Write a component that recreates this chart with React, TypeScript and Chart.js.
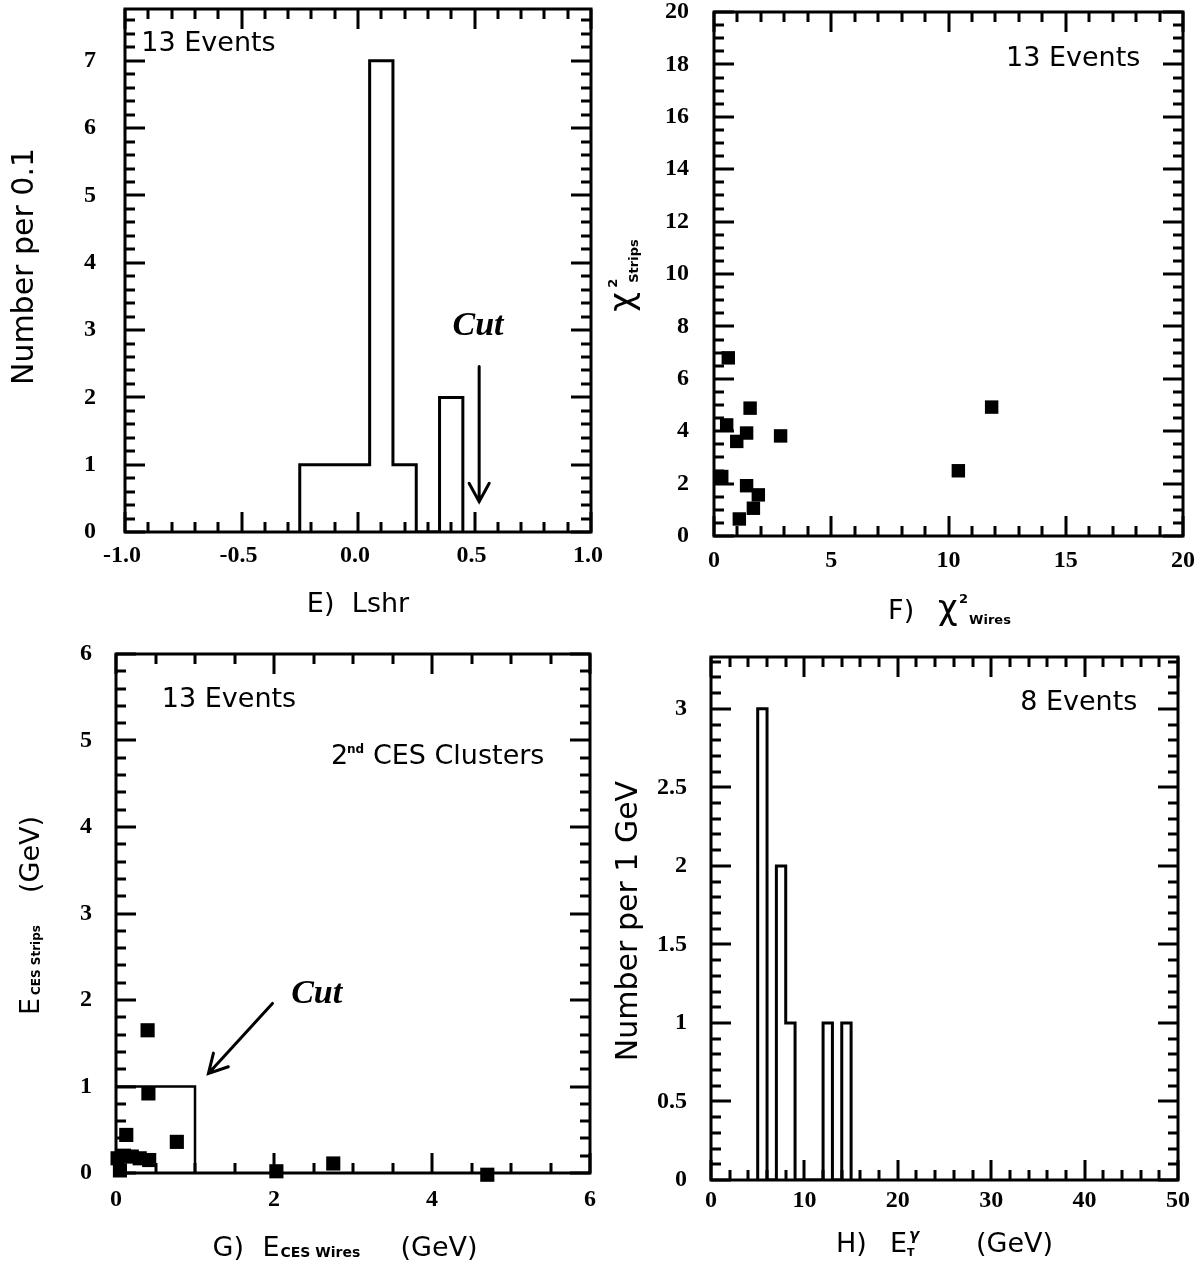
import React, { useEffect, useRef } from 'react';
import { Chart, registerables } from 'chart.js';

Chart.register(...registerables);

// ---------------- Panel E : Lshr histogram ----------------
const eBinCenters = [-0.2, -0.1, 0.0, 0.1, 0.2, 0.3, 0.4];
const eCounts = [1, 1, 1, 7, 1, 0, 2];
const eBinWidth = 0.1;
const eXTicks = [-1.0, -0.5, 0.0, 0.5, 1.0];
const eYTicks = [0, 1, 2, 3, 4, 5, 6, 7];
const eCutX = 0.52;

// ---------------- Panel F : chi2 strips vs wires ----------------
const fWires = [0.61, 1.54, 0.54, 1.39, 0.97, 2.84, 0.33, 1.39, 1.89, 1.68, 1.08, 10.42, 11.84];
const fStrips = [6.8, 4.88, 4.24, 3.93, 3.61, 3.82, 2.27, 1.92, 1.57, 1.06, 0.65, 2.49, 4.92];
const fXTicks = [0, 5, 10, 15, 20];
const fYTicks = [0, 2, 4, 6, 8, 10, 12, 14, 16, 18, 20];

// ---------------- Panel G : CES strips vs wires energy ----------------
const gWires = [0.4, 0.41, 0.13, 0.77, 0.02, 0.05, 0.1, 0.2, 0.3, 0.42, 2.03, 2.75, 4.7];
const gStrips = [1.65, 0.92, 0.44, 0.36, 0.17, 0.03, 0.2, 0.19, 0.17, 0.15, 0.02, 0.11, -0.02];
const gCutBoxX = [0, 1, 1];
const gCutBoxY = [1, 1, 0];
const gXTicks = [0, 2, 4, 6];
const gYTicks = [0, 1, 2, 3, 4, 5, 6];

// ---------------- Panel H : photon ET histogram ----------------
const hBinLows = [5, 6, 7, 8, 9, 10, 11, 12, 13, 14];
const hCounts = [3, 0, 2, 1, 0, 0, 0, 1, 0, 1];
const hBinWidth = 1;
const hXTicks = [0, 10, 20, 30, 40, 50];
const hYTicks = [0, 0.5, 1, 1.5, 2, 2.5, 3];

const SANS = '"DejaVu Sans", sans-serif';
const T27 = `27px ${SANS}`;
const T30 = `30px ${SANS}`;
const SERIF_TICK = { family: '"Liberation Serif", serif', weight: 'bold' as const, size: 24 };
const CUT_FONT = 'italic bold 34px "Liberation Serif", serif';
const MAJ = 20;
const MIN = 10;

type Seg = { t: string; f?: string; dy?: number; at?: number; ls?: number };

function drawRich(ctx: CanvasRenderingContext2D, segs: Seg[], x: number, y: number, align: 'left' | 'center', rot = false) {
  ctx.save();
  ctx.translate(x, y);
  if (rot) ctx.rotate(-Math.PI / 2);
  ctx.textBaseline = 'alphabetic';
  ctx.textAlign = 'left';
  ctx.fillStyle = '#000';
  const c: any = ctx;
  let cur = 0;
  let maxX = 0;
  const placed = segs.map((s) => {
    ctx.font = s.f || T27;
    c.letterSpacing = `${s.ls || 0}px`;
    const w = ctx.measureText(s.t).width;
    const px = s.at !== undefined ? s.at : cur;
    cur = px + w;
    maxX = Math.max(maxX, px + w);
    return { s, px };
  });
  const off = align === 'center' ? -maxX / 2 : 0;
  placed.forEach(({ s, px }) => {
    ctx.font = s.f || T27;
    c.letterSpacing = `${s.ls || 0}px`;
    ctx.fillText(s.t, off + px, s.dy || 0);
  });
  c.letterSpacing = '0px';
  ctx.restore();
}

function arrow(ctx: CanvasRenderingContext2D, x0: number, y0: number, x1: number, y1: number) {
  const ang = Math.atan2(y1 - y0, x1 - x0);
  const L = 21;
  const h = 0.5;
  ctx.save();
  ctx.strokeStyle = '#000';
  ctx.lineWidth = 3;
  ctx.lineCap = 'round';
  ctx.beginPath();
  ctx.moveTo(x0, y0);
  ctx.lineTo(x1, y1);
  ctx.moveTo(x1 - L * Math.cos(ang - h), y1 - L * Math.sin(ang - h));
  ctx.lineTo(x1, y1);
  ctx.lineTo(x1 - L * Math.cos(ang + h), y1 - L * Math.sin(ang + h));
  ctx.stroke();
  ctx.restore();
}

function histPoints(lows: number[], counts: number[], width: number) {
  const pts: { x: number; y: number }[] = [{ x: lows[0], y: 0 }];
  lows.forEach((lo, i) => {
    pts.push({ x: lo, y: counts[i] });
    pts.push({ x: lo + width, y: counts[i] });
  });
  pts.push({ x: lows[lows.length - 1] + width, y: 0 });
  return pts;
}

function drawFrame(chart: any, xMinor: number, xMajor: number, yMinor: number, yMajor: number) {
  const { ctx, chartArea: a, scales } = chart;
  const xs = scales.x;
  const ys = scales.y;
  ctx.save();
  ctx.strokeStyle = '#000';
  ctx.fillStyle = '#000';
  const isMaj = (v: number, m: number) => Math.abs(v / m - Math.round(v / m)) < 1e-6;
  const n0 = Math.ceil(xs.min / xMinor - 1e-6);
  const n1 = Math.floor(xs.max / xMinor + 1e-6);
  for (let n = n0; n <= n1; n++) {
    const v = n * xMinor;
    const len = isMaj(v, xMajor) ? MAJ : MIN;
    const p = Math.round(xs.getPixelForValue(v));
    ctx.fillRect(p - 1.5, a.bottom - len, 3, len);
    ctx.fillRect(p - 1.5, a.top, 3, len);
  }
  const m0 = Math.ceil(ys.min / yMinor - 1e-6);
  const m1 = Math.floor(ys.max / yMinor + 1e-6);
  for (let n = m0; n <= m1; n++) {
    const v = n * yMinor;
    const len = isMaj(v, yMajor) ? MAJ : MIN;
    const p = Math.round(ys.getPixelForValue(v));
    ctx.fillRect(a.left, p - 1.5, len, 3);
    ctx.fillRect(a.right - len, p - 1.5, len, 3);
  }
  ctx.lineWidth = 3;
  ctx.strokeRect(a.left, a.top, a.right - a.left, a.bottom - a.top);
  ctx.restore();
}

type PanelSpec = {
  W: number;
  H: number;
  area: [number, number, number, number];
  xMin: number; xMax: number; yMin: number; yMax: number;
  xTicks: number[]; yTicks: number[];
  xFmt: (v: number) => string; yFmt: (v: number) => string;
  xPad: number; yPad: number; xLabelOffset: number;
  xMinor: number; yMinor: number;
  datasets: any[];
  decorate: (chart: any) => void;
};

function buildConfig(p: PanelSpec): any {
  const [l, t, r, b] = p.area;
  return {
    type: 'scatter',
    data: { datasets: p.datasets },
    options: {
      animation: false,
      responsive: false,
      devicePixelRatio: 1,
      events: [],
      layout: { padding: { left: 0, top: t, right: p.W - r, bottom: 0 } },
      plugins: { legend: { display: false }, tooltip: { enabled: false } },
      scales: {
        x: {
          type: 'linear',
          min: p.xMin,
          max: p.xMax,
          grid: { display: false, drawTicks: false },
          border: { display: false },
          afterBuildTicks: (s: any) => { s.ticks = p.xTicks.map((v) => ({ value: v })); },
          afterFit: (s: any) => {
            s.height = p.H - b;
            s.paddingLeft = 0; s.paddingRight = 0; s.paddingTop = 0; s.paddingBottom = 0;
          },
          ticks: {
            font: SERIF_TICK, color: '#000', padding: p.xPad, labelOffset: p.xLabelOffset,
            autoSkip: false, maxRotation: 0, minRotation: 0,
            callback: (v: any) => p.xFmt(Number(v)),
          },
        },
        y: {
          type: 'linear',
          min: p.yMin,
          max: p.yMax,
          grid: { display: false, drawTicks: false },
          border: { display: false },
          afterBuildTicks: (s: any) => { s.ticks = p.yTicks.map((v) => ({ value: v })); },
          afterFit: (s: any) => {
            s.width = l;
            s.paddingLeft = 0; s.paddingRight = 0; s.paddingTop = 0; s.paddingBottom = 0;
          },
          ticks: {
            font: SERIF_TICK, color: '#000', padding: p.yPad,
            autoSkip: false,
            callback: (v: any) => p.yFmt(Number(v)),
          },
        },
      },
    },
    plugins: [
      {
        id: 'frameAndText',
        afterDraw: (chart: any) => {
          drawFrame(chart, p.xMinor, p.xTicks[1] - p.xTicks[0], p.yMinor, p.yTicks[1] - p.yTicks[0]);
          p.decorate(chart);
        },
      },
    ],
  };
}

const lineDs = (data: { x: number; y: number }[], width = 3) => ({
  data,
  showLine: true,
  borderColor: '#000',
  borderWidth: width,
  borderJoinStyle: 'miter',
  pointRadius: 0,
  fill: false,
  tension: 0,
});

const pointDs = (xs: number[], ys: number[], r: number) => ({
  data: xs.map((x, i) => ({ x, y: ys[i] })),
  showLine: false,
  pointStyle: 'rect',
  pointRadius: r,
  pointBorderWidth: 0,
  backgroundColor: '#000',
  borderColor: '#000',
  clip: false,
});

const fmtInt = (v: number) => String(v);

function specE(): PanelSpec {
  return {
    W: 640, H: 640, area: [125, 9, 591, 532],
    xMin: -1, xMax: 1, yMin: 0, yMax: 7.77,
    xTicks: eXTicks, yTicks: eYTicks,
    xFmt: (v) => v.toFixed(1), yFmt: fmtInt,
    xPad: 9, yPad: 29, xLabelOffset: -3, xMinor: 0.1, yMinor: 0.2,
    datasets: [lineDs(histPoints(eBinCenters.map((c) => c - eBinWidth / 2), eCounts, eBinWidth))],
    decorate: (chart) => {
      const { ctx, chartArea: a, scales: { x, y } } = chart;
      const cx = (a.left + a.right) / 2;
      const cy = (a.top + a.bottom) / 2;
      drawRich(ctx, [{ t: 'E)' }, { t: 'Lshr', at: 45 }], cx, a.bottom + 80, 'center');
      drawRich(ctx, [{ t: 'Number per 0.1', f: T30 }], 33, cy - 4, 'center', true);
      drawRich(ctx, [{ t: '13 Events' }], x.getPixelForValue(-0.93), y.getPixelForValue(7.14), 'left');
      drawRich(ctx, [{ t: 'Cut', f: CUT_FONT }], x.getPixelForValue(0.515), y.getPixelForValue(2.93), 'center');
      arrow(ctx, x.getPixelForValue(eCutX), y.getPixelForValue(2.46), x.getPixelForValue(eCutX), y.getPixelForValue(0.45));
    },
  };
}

function specF(): PanelSpec {
  return {
    W: 644, H: 640, area: [154, 12, 623, 536],
    xMin: 0, xMax: 20, yMin: 0, yMax: 20,
    xTicks: fXTicks, yTicks: fYTicks,
    xFmt: fmtInt, yFmt: fmtInt,
    xPad: 10, yPad: 25, xLabelOffset: 0, xMinor: 1, yMinor: 0.5,
    datasets: [pointDs(fWires, fStrips, 9.5)],
    decorate: (chart) => {
      const { ctx, chartArea: a, scales: { x, y } } = chart;
      const cx = (a.left + a.right) / 2;
      const cy = (a.top + a.bottom) / 2;
      drawRich(ctx, [
        { t: 'F)' },
        { t: 'χ', f: `34px ${SANS}`, at: 50 },
        { t: '2', f: `bold 13px ${SANS}`, at: 71, dy: -16 },
        { t: 'Wires', f: `bold 13px ${SANS}`, at: 81, dy: 5 },
      ], cx + 1, a.bottom + 83, 'center');
      drawRich(ctx, [
        { t: 'χ', f: `34px ${SANS}`, at: 0 },
        { t: 'Strips', f: `bold 13px ${SANS}`, at: 29, dy: 5 },
        { t: '2', f: `bold 13px ${SANS}`, at: 24, dy: -16 },
      ], a.left - 81, cy + 1.5, 'center', true);
      drawRich(ctx, [{ t: '13 Events' }], x.getPixelForValue(12.45), y.getPixelForValue(17.95), 'left');
    },
  };
}

function specG(): PanelSpec {
  return {
    W: 640, H: 635, area: [116, 24, 590, 543],
    xMin: 0, xMax: 6, yMin: 0, yMax: 6,
    xTicks: gXTicks, yTicks: gYTicks,
    xFmt: fmtInt, yFmt: fmtInt,
    xPad: 12, yPad: 24, xLabelOffset: 0, xMinor: 0.5, yMinor: 0.2,
    datasets: [
      lineDs(gCutBoxX.map((v, i) => ({ x: v, y: gCutBoxY[i] })), 2.5),
      pointDs(gWires, gStrips, 10),
    ],
    decorate: (chart) => {
      const { ctx, chartArea: a, scales: { x, y } } = chart;
      const cx = (a.left + a.right) / 2;
      const cy = (a.top + a.bottom) / 2;
      drawRich(ctx, [
        { t: 'G)', at: 0 },
        { t: 'E', at: 50 },
        { t: 'CES Wires', f: `bold 14px ${SANS}`, at: 68, dy: 1 },
        { t: '(GeV)', at: 188 },
      ], cx - 8, a.bottom + 83, 'center');
      drawRich(ctx, [
        { t: 'E', at: 0 },
        { t: 'CES Strips', f: `bold 12px ${SANS}`, at: 20, dy: 1 },
        { t: '(GeV)', at: 122 },
      ], a.left - 77, cy + 2, 'center', true);
      drawRich(ctx, [{ t: '13 Events' }], x.getPixelForValue(0.58), y.getPixelForValue(5.39), 'left');
      drawRich(ctx, [
        { t: '2', at: 0 },
        { t: 'nd', f: `bold 12px ${SANS}`, at: 16, dy: -11 },
        { t: 'CES Clusters', at: 42 },
      ], x.getPixelForValue(2.72), y.getPixelForValue(4.73), 'left');
      drawRich(ctx, [{ t: 'Cut', f: CUT_FONT }], x.getPixelForValue(2.54), y.getPixelForValue(1.965), 'center');
      arrow(ctx, x.getPixelForValue(1.98), y.getPixelForValue(1.96), x.getPixelForValue(1.17), y.getPixelForValue(1.15));
    },
  };
}

function specH(): PanelSpec {
  return {
    W: 644, H: 635, area: [151, 27, 618, 550],
    xMin: 0, xMax: 50, yMin: 0, yMax: 3.33,
    xTicks: hXTicks, yTicks: hYTicks,
    xFmt: fmtInt, yFmt: (v) => String(v),
    xPad: 6, yPad: 24, xLabelOffset: 0, xMinor: 2, yMinor: 0.1,
    datasets: [lineDs(histPoints(hBinLows, hCounts, hBinWidth))],
    decorate: (chart) => {
      const { ctx, chartArea: a, scales: { x, y } } = chart;
      const cx = (a.left + a.right) / 2;
      const cy = (a.top + a.bottom) / 2;
      drawRich(ctx, [
        { t: 'H)', at: 0 },
        { t: 'E', at: 54 },
        { t: 'T', f: `bold 11px ${SANS}`, at: 71, dy: 4 },
        { t: 'γ', f: `italic bold 15px ${SANS}`, at: 73, dy: -12 },
        { t: '(GeV)', at: 140 },
      ], cx, a.bottom + 72, 'center');
      drawRich(ctx, [{ t: 'Number per 1 GeV', f: T30 }], a.left - 74, cy + 2.5, 'center', true);
      drawRich(ctx, [{ t: '8 Events' }], x.getPixelForValue(33.1), y.getPixelForValue(2.99), 'left');
    },
  };
}

function Panel({ left, top, spec }: { left: number; top: number; spec: PanelSpec }) {
  const ref = useRef<HTMLCanvasElement | null>(null);
  useEffect(() => {
    if (!ref.current) return;
    const chart = new Chart(ref.current, buildConfig(spec));
    return () => chart.destroy();
  }, []);
  return (
    <canvas
      ref={ref}
      width={spec.W}
      height={spec.H}
      style={{ position: 'absolute', left, top, width: spec.W, height: spec.H }}
    />
  );
}

export default function App() {
  return (
    <div style={{ position: 'absolute', left: 0, top: 0, width: 1204, height: 1265, background: '#fff', overflow: 'hidden' }}>
      <Panel left={0} top={0} spec={specE()} />
      <Panel left={560} top={0} spec={specF()} />
      <Panel left={0} top={630} spec={specG()} />
      <Panel left={560} top={630} spec={specH()} />
    </div>
  );
}
